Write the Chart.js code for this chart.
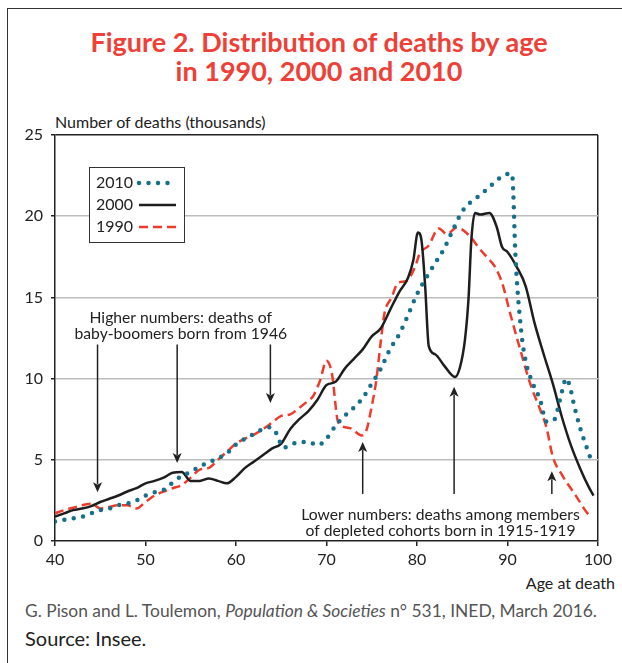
<!DOCTYPE html>
<html>
<head>
<meta charset="utf-8">
<script src="https://cdn.jsdelivr.net/npm/chart.js@4.4.0/dist/chart.umd.min.js"></script>
<style>
  body { margin: 0; width: 622px; height: 663px; overflow: hidden; position: relative; background: #fff; font-family: Lato, sans-serif; }
  #frame { position: absolute; left: 7px; top: 8px; width: 700px; height: 700px; border: 1.5px solid #333; }
  #title { position: absolute; left: 0; width: 638px; top: 27px; text-align: center; color: #ee4036; font-weight: 700; font-size: 27px; line-height: 29px; }
  #ytitle { position: absolute; left: 55px; top: 112px; font-size: 16px; color: #222; }
  #xtitle { position: absolute; right: 7px; top: 573px; font-size: 16px; color: #222; }
  #cite { position: absolute; left: 25px; top: 600px; font-size: 17.4px; color: #555; }
  #source { position: absolute; left: 25px; top: 626px; font-size: 20px; color: #222; }
  #wrap { position: absolute; left: 0; top: 0; width: 622px; height: 663px; }
</style>
</head>
<body>
<div id="frame"></div>
<div id="title">Figure 2. Distribution of deaths by age<br>in 1990, 2000 and 2010</div>
<div id="ytitle">Number of deaths (thousands)</div>
<div id="xtitle">Age at death</div>
<div id="cite">G. Pison and L. Toulemon, <i>Population &amp; Societies</i> n° 531, INED, March 2016.</div>
<div id="source">Source: Insee.</div>
<div id="wrap"><canvas id="chart"></canvas></div>
<script>
// deaths in thousands
const ages2010 = [40, 41, 42, 43, 44, 45, 46, 47, 48, 49, 50, 51, 52, 53, 54, 55, 56, 57, 58, 59, 60, 61, 62, 63, 63.8, 64.5, 65.2, 66, 67, 68, 69, 70, 71, 72, 73, 74, 75, 76, 77, 78, 79, 80, 81, 82, 83, 84, 85, 86, 87, 88, 89, 90, 90.5, 90.9, 91.5, 92, 92.8, 93.6, 94.3, 95.2, 95.8, 96.5, 96.9, 97.3, 98, 98.6, 99.3];
const deaths2010 = [1.2, 1.3, 1.4, 1.5, 1.7, 1.9, 2.0, 2.2, 2.3, 2.5, 2.8, 3.0, 3.15, 3.6, 4.0, 4.25, 4.6, 4.85, 5.1, 5.4, 5.95, 6.3, 6.6, 6.9, 7.0, 6.6, 5.75, 5.9, 6.1, 6.1, 5.9, 6.3, 7.1, 7.7, 8.2, 8.8, 9.7, 10.6, 11.8, 12.7, 13.9, 15.2, 16.2, 17.1, 18.0, 19.2, 20.3, 20.9, 21.3, 21.8, 22.3, 22.6, 22.6, 17.3, 13.0, 11.1, 9.7, 8.7, 7.35, 7.5, 8.7, 10.0, 9.5, 8.5, 7.0, 6.0, 4.9];

const ages2000 = [40, 41, 42, 43, 44, 45, 46, 47, 48, 49, 50, 51, 52, 53, 54, 55, 56, 57, 58, 59, 60, 61, 62, 63, 64, 65, 66, 67, 68, 69, 70, 71, 72, 73, 74, 75, 76, 77, 78, 79, 79.6, 80.1, 80.5, 80.9, 81.3, 82, 83, 84.2, 84.75, 85.3, 85.7, 86, 86.4, 87, 88, 88.8, 89.4, 90, 91, 92, 93, 94, 95, 96, 97, 98, 99, 99.5];
const deaths2000 = [1.5, 1.7, 1.9, 2.0, 2.15, 2.4, 2.6, 2.8, 3.05, 3.25, 3.55, 3.7, 3.9, 4.2, 4.25, 3.7, 3.7, 3.85, 3.7, 3.55, 3.95, 4.5, 4.9, 5.3, 5.7, 6.0, 6.9, 7.5, 8.0, 8.7, 9.6, 9.8, 10.6, 11.2, 11.8, 12.6, 13.1, 14.2, 15.3, 16.2, 17.3, 19.0, 18.5, 15.7, 12.0, 11.5, 10.8, 10.1, 10.7, 12.4, 15.0, 18.5, 20.2, 20.1, 20.2, 19.35, 18.1, 17.8, 16.9, 15.7, 13.4, 11.5, 9.7, 7.65, 5.9, 4.5, 3.3, 2.8];

const ages1990 = [40, 41, 42, 43, 44, 45, 46, 47, 48, 49, 50, 51, 52, 53, 54, 55, 56, 57, 58, 59, 60, 61, 62, 63, 64, 65, 66, 67, 68, 68.5, 69.3, 70, 70.6, 71.3, 72.6, 73.9, 74.4, 75, 75.5, 76, 76.4, 77.2, 77.9, 78.8, 79.8, 80.3, 81.3, 82.4, 83.3, 84.4, 85.8, 86.9, 87.7, 88.6, 89.4, 90.3, 91.4, 92.5, 93.6, 94.3, 95, 96.1, 97.6, 98.7, 99.3];
const deaths1990 = [1.7, 1.9, 2.05, 2.2, 2.3, 2.0, 2.1, 2.2, 2.2, 2.0, 2.4, 2.8, 3.05, 3.25, 3.45, 3.9, 4.4, 4.5, 5.0, 5.5, 6.0, 6.3, 6.55, 6.9, 7.3, 7.7, 7.8, 8.2, 8.65, 8.9, 9.9, 11.1, 10.3, 7.3, 6.95, 6.5, 6.8, 8.3, 9.9, 12.3, 14.0, 15.0, 15.9, 16.0, 16.9, 17.7, 18.2, 19.25, 18.9, 19.3, 18.8, 18.0, 17.5, 16.9, 15.9, 14.0, 11.8, 9.7, 8.1, 7.0, 5.2, 4.0, 2.75, 1.8, 1.45];

const yTicks = [0, 5, 10, 15, 20, 25];
const xTicks = [40, 50, 60, 70, 80, 90, 100];

// annotation arrows: age, start value, tip value
const arrowAges = [44.7, 53.5, 63.8, 74.0, 84.1, 94.9];
const arrowFrom = [12.1, 12.1, 12.1, 2.9, 2.9, 2.9];
const arrowTo = [3.0, 4.8, 8.5, 6.1, 9.5, 4.3];

const noteLines = ['Higher numbers: deaths of', 'baby-boomers born from 1946', 'Lower numbers: deaths among members', 'of depleted cohorts born in 1915-1919'];
const noteAges = [53.9, 53.9, 82.6, 82.6];
const noteValues = [13.75, 12.73, 1.6, 0.63];

const TEXT = '#222';
const FONT = 'Lato, sans-serif';

function pts(xs, ys) {
    return xs.map((x, i) => ({ x: x, y: ys[i] }));
}

const annotations = {
    id: 'annotations',
    afterDatasetsDraw(chart) {
        const ctx = chart.ctx;
        const xs = chart.scales.x;
        const ys = chart.scales.y;
        ctx.save();
        ctx.strokeStyle = TEXT;
        ctx.fillStyle = TEXT;
        ctx.lineWidth = 1.5;
        arrowAges.forEach((a, i) => {
            const x = xs.getPixelForValue(a);
            const y0 = ys.getPixelForValue(arrowFrom[i]);
            const y1 = ys.getPixelForValue(arrowTo[i]);
            const dir = y1 > y0 ? 1 : -1;
            ctx.beginPath();
            ctx.moveTo(x, y0);
            ctx.lineTo(x, y1 - dir * 8);
            ctx.stroke();
            ctx.beginPath();
            ctx.moveTo(x, y1);
            ctx.lineTo(x - 4.5, y1 - dir * 10);
            ctx.lineTo(x, y1 - dir * 7.5);
            ctx.lineTo(x + 4.5, y1 - dir * 10);
            ctx.closePath();
            ctx.fill();
        });
        ctx.font = '15.7px ' + FONT;
        ctx.textAlign = 'center';
        ctx.textBaseline = 'middle';
        noteLines.forEach((t, i) => {
            ctx.fillText(t, xs.getPixelForValue(noteAges[i]), ys.getPixelForValue(noteValues[i]));
        });
        ctx.restore();
    }
};

const boxLegend = {
    id: 'boxLegend',
    afterDraw(chart) {
        const ctx = chart.ctx;
        const area = chart.chartArea;
        const left = area.left + 34, top = area.top + 32;
        ctx.save();
        ctx.fillStyle = '#fff';
        ctx.fillRect(left, top, 95, 75);
        ctx.strokeStyle = '#333';
        ctx.lineWidth = 1;
        ctx.strokeRect(left + 0.5, top + 0.5, 95, 75);
        ctx.font = '16px ' + FONT;
        ctx.textBaseline = 'middle';
        chart.data.datasets.forEach((ds, i) => {
            const y = top + 16 + i * 22;
            ctx.fillStyle = TEXT;
            ctx.fillText(ds.label, left + 7, y);
            ctx.strokeStyle = ds.borderColor;
            ctx.lineWidth = ds.borderWidth;
            ctx.lineCap = ds.borderCapStyle || 'butt';
            ctx.setLineDash(ds.borderDash || []);
            ctx.beginPath();
            ctx.moveTo(left + 50, y);
            ctx.lineTo(left + 87, y);
            ctx.stroke();
        });
        ctx.restore();
    }
};

new Chart(document.getElementById('chart'), {
    type: 'line',
    data: {
        datasets: [
            {
                label: '2010',
                data: pts(ages2010, deaths2010),
                borderColor: '#17708a',
                borderWidth: 4.5,
                borderDash: [0, 9.5],
                borderCapStyle: 'round',
                pointRadius: 0,
                cubicInterpolationMode: 'monotone'
            },
            {
                label: '2000',
                data: pts(ages2000, deaths2000),
                borderColor: '#1e1e1e',
                borderWidth: 2.5,
                pointRadius: 0,
                cubicInterpolationMode: 'monotone'
            },
            {
                label: '1990',
                data: pts(ages1990, deaths1990),
                borderColor: '#f03a2c',
                borderWidth: 2.5,
                borderDash: [9, 5],
                pointRadius: 0,
                cubicInterpolationMode: 'monotone'
            }
        ]
    },
    options: {
        responsive: true,
        maintainAspectRatio: false,
        animation: false,
        layout: { padding: { left: 0, top: 135, right: 24, bottom: 92 } },
        plugins: { legend: { display: false }, tooltip: { enabled: false } },
        scales: {
            x: {
                type: 'linear',
                min: 40,
                max: 100,
                afterBuildTicks: s => { s.ticks = xTicks.map(v => ({ value: v })); },
                afterFit: s => { s.height = 30; },
                ticks: { color: TEXT, font: { family: FONT, size: 16 }, padding: 4, maxRotation: 0 },
                grid: {
                    color: c => c.tick && c.tick.value === 100 ? '#222' : 'transparent',
                    lineWidth: 1.5,
                    tickColor: '#222',
                    tickLength: 5
                },
                border: { color: '#222', width: 1.5 }
            },
            y: {
                min: 0,
                max: 25,
                afterBuildTicks: s => { s.ticks = yTicks.map(v => ({ value: v })); },
                afterFit: s => { s.width = 55; },
                ticks: { color: TEXT, font: { family: FONT, size: 16 }, padding: 8 },
                grid: {
                    color: c => c.tick && c.tick.value === 25 ? '#222' : (c.tick && c.tick.value === 0 ? 'transparent' : '#bdbdbd'),
                    lineWidth: 1.5,
                    tickColor: '#222',
                    tickLength: 4
                },
                border: { color: '#222', width: 1.5 }
            }
        }
    },
    plugins: [annotations, boxLegend]
});
</script>
</body>
</html>
